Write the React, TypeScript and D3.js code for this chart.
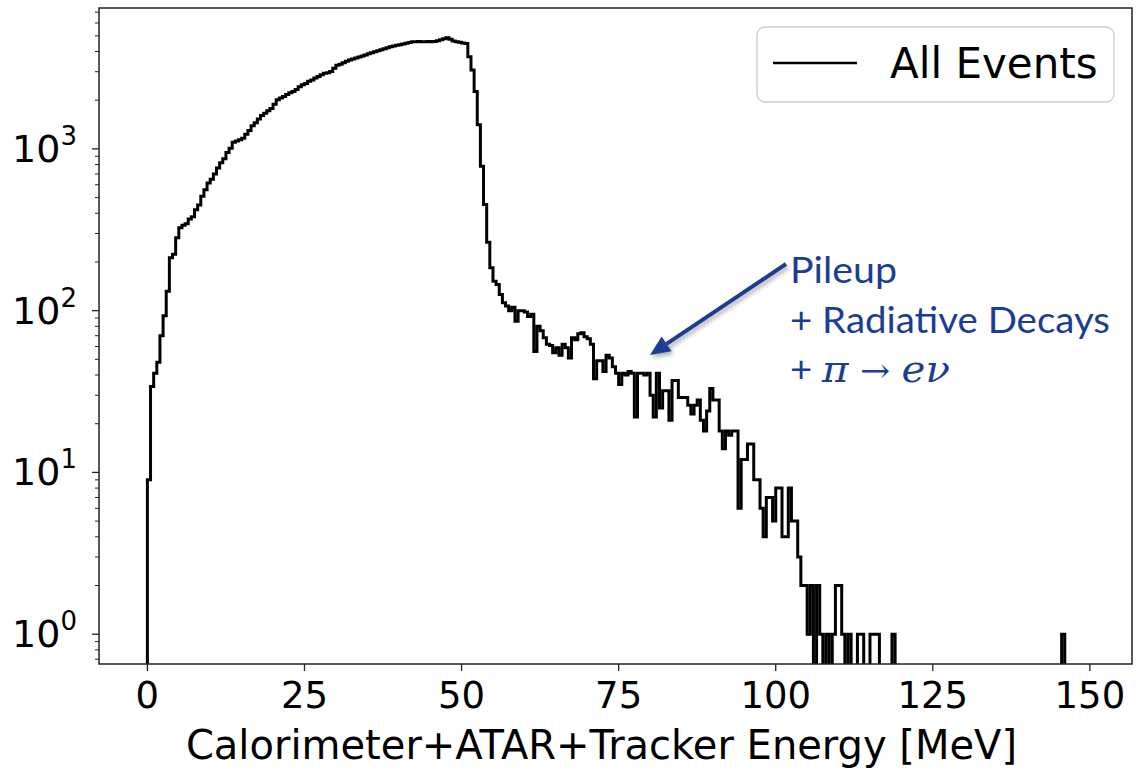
import React from "react";
import * as d3 from "d3";

// Histogram counts, 0.5 MeV bins starting at 0 MeV (300 bins, 0–150 MeV)
const counts: number[] = [
  9, 34, 41, 48, 70, 93, 132, 212, 223, 282, 325, 337,
  345, 368, 380, 420, 450, 510, 560, 615, 650, 700, 761, 820, 870, 950, 1010, 1100, 1120, 1140,
  1165, 1230, 1300, 1390, 1450, 1530, 1610, 1660, 1720, 1780, 1890, 2010, 2060, 2110, 2170, 2220, 2260, 2330, 2420, 2490,
  2540, 2620, 2670, 2740, 2800, 2870, 2930, 2960, 3010, 3150, 3290, 3340, 3410, 3480, 3550, 3600, 3650, 3700, 3750, 3810,
  3880, 3930, 3990, 4050, 4100, 4160, 4220, 4280, 4320, 4370, 4410, 4450, 4500, 4550, 4600, 4590, 4610, 4600, 4590, 4610,
  4600, 4620, 4660, 4720, 4790, 4860, 4760, 4650, 4600, 4560, 4520, 4490, 3715, 3073, 2261, 1408, 780, 453, 265, 184,
  152, 145, 126, 112, 107, 100, 105, 86, 100, 100, 98, 92, 95, 56, 80, 75, 68, 62, 61, 55,
  59, 53, 62, 59, 51, 68, 66, 72, 73, 69, 67, 62, 38, 49, 49, 42, 53, 51, 45, 41,
  35, 41, 40, 42, 41, 22, 41, 41, 40, 41, 30, 22, 41, 25, 32, 32, 21, 37, 37, 29,
  29, 29, 26, 23, 26, 28, 21, 18, 24, 33, 28, 28, 18, 14, 18, 17, 18, 18, 6, 12,
  12, 15, 15, 9, 9, 6, 4, 7, 7, 5, 8, 8, 4, 4, 8, 5, 5, 3, 2, 2,
  1, 2, 0, 2, 1, 0, 1, 0, 1, 2, 2, 1, 0, 1, 0, 0, 1, 1, 0, 0,
  1, 1, 1, 0, 0, 0, 0, 1, 0, 0, 0, 0, 0, 0, 0, 0, 0, 0, 0, 0,
  0, 0, 0, 0, 0, 0, 0, 0, 0, 0, 0, 0, 0, 0, 0, 0, 0, 0, 0, 0,
  0, 0, 0, 0, 0, 0, 0, 0, 0, 0, 0, 0, 0, 0, 0, 0, 0, 0, 0, 0,
  0, 1, 0, 0, 0, 0, 0, 0, 0, 0,
];
const BIN_START = 0;
const BIN_WIDTH = 0.5;

const xTickValues = [0, 25, 50, 75, 100, 125, 150];
const yMajorExponents = [0, 1, 2, 3];
const xLabelText = "Calorimeter+ATAR+Tracker Energy [MeV]";
const legendText = "All Events";
const annotationLines = ["Pileup", "+ Radiative Decays"];

const W = 1136;
const H = 771;
const PLOT = { left: 99, right: 1132, top: 8, bottom: 664 };
const BLUE = "#1b3d92";
const FONT = "'DejaVu Sans', sans-serif";
const ANNOT_FONT = "Lato, 'Open Sans', sans-serif";

export default function App() {
  const x = d3.scaleLinear().domain([-7.7, 156.7]).range([PLOT.left, PLOT.right]);
  const maxC = d3.max(counts) as number;
  const L = Math.log10(maxC);
  const y = d3
    .scaleLog()
    .domain([Math.pow(10, -0.05 * L), Math.pow(10, 1.05 * L)])
    .range([PLOT.bottom, PLOT.top]);
  const below = PLOT.bottom + 40;
  const yv = (v: number) => (v > 0 ? y(v) : below);

  const n = counts.length;
  const pts: [number, number][] = [];
  pts.push([x(BIN_START), below]);
  counts.forEach((c, i) => pts.push([x(BIN_START + i * BIN_WIDTH), yv(c)]));
  pts.push([x(BIN_START + n * BIN_WIDTH), yv(counts[n - 1])]);
  pts.push([x(BIN_START + n * BIN_WIDTH), below]);
  const stepPath = d3.line().curve(d3.curveStepAfter)(pts) || "";

  const [dLo, dHi] = y.domain();
  const minorTicks: number[] = [];
  for (let e = -1; e <= 4; e++) {
    for (let m = 2; m <= 9; m++) {
      const v = m * Math.pow(10, e);
      if (v >= dLo && v <= dHi) minorTicks.push(v);
    }
  }

  // arrow geometry
  const a0 = { x: 786, y: 264 };
  const a1 = { x: 650, y: 355 };
  const ang = Math.atan2(a1.y - a0.y, a1.x - a0.x);
  const headLen = 20;
  const headW = 9;
  const bx = a1.x - headLen * Math.cos(ang);
  const by = a1.y - headLen * Math.sin(ang);
  const px = -Math.sin(ang);
  const py = Math.cos(ang);
  const head = `M${a1.x},${a1.y} L${bx + px * headW},${by + py * headW} L${bx - px * headW},${by - py * headW} Z`;

  return (
    <div style={{ margin: 0, padding: 0 }}>
      <style>{`body{margin:0;padding:0;}`}</style>
      <svg width={W} height={H} style={{ display: "block", background: "#fff" }}>
        <defs>
          <clipPath id="plotClip">
            <rect x={PLOT.left} y={PLOT.top} width={PLOT.right - PLOT.left} height={PLOT.bottom - PLOT.top} />
          </clipPath>
          <filter id="shadow" x="-20%" y="-20%" width="140%" height="140%">
            <feDropShadow dx="2" dy="3" stdDeviation="2" floodColor="#000" floodOpacity="0.3" />
          </filter>
        </defs>
        <rect x={0} y={0} width={W} height={H} fill="#fff" />

        {/* histogram */}
        <path
          d={stepPath}
          fill="none"
          stroke="#000"
          strokeWidth={3}
          strokeLinejoin="miter"
          clipPath="url(#plotClip)"
        />

        {/* spines */}
        <rect
          x={PLOT.left}
          y={PLOT.top}
          width={PLOT.right - PLOT.left}
          height={PLOT.bottom - PLOT.top}
          fill="none"
          stroke="#222"
          strokeWidth={1.5}
        />

        {/* x ticks */}
        {xTickValues.map((t) => (
          <g key={"xt" + t}>
            <line x1={x(t)} x2={x(t)} y1={PLOT.bottom} y2={PLOT.bottom + 7} stroke="#222" strokeWidth={1.3} />
            <text
              x={x(t)}
              y={PLOT.bottom + 44}
              textAnchor="middle"
              fontFamily={FONT}
              fontSize={37}
              fill="#000"
            >
              {t}
            </text>
          </g>
        ))}

        {/* y major ticks */}
        {yMajorExponents.map((e) => {
          const yy = y(Math.pow(10, e));
          return (
            <g key={"ym" + e}>
              <line x1={PLOT.left - 7} x2={PLOT.left} y1={yy} y2={yy} stroke="#222" strokeWidth={1.3} />
              <text x={77} y={yy + 13} textAnchor="end" fontFamily={FONT} fontSize={38} fill="#000">
                10
                <tspan fontSize={26} dy={-17}>
                  {e}
                </tspan>
              </text>
            </g>
          );
        })}
        {/* y minor ticks */}
        {minorTicks.map((v, i) => (
          <line
            key={"yn" + i}
            x1={PLOT.left - 4}
            x2={PLOT.left}
            y1={y(v)}
            y2={y(v)}
            stroke="#222"
            strokeWidth={1}
          />
        ))}

        {/* x label */}
        <text
          x={(PLOT.left + PLOT.right) / 2 - 14}
          y={759}
          textAnchor="middle"
          fontFamily={FONT}
          fontSize={40}
          fill="#000"
        >
          {xLabelText}
        </text>

        {/* legend */}
        <rect x={757} y={27} width={357} height={75} rx={8} fill="#fff" fillOpacity={0.8} stroke="#cccccc" strokeWidth={1.3} />
        <line x1={773} x2={857} y1={63} y2={63} stroke="#000" strokeWidth={2.5} />
        <text x={890} y={78} fontFamily={FONT} fontSize={42} fill="#000">
          {legendText}
        </text>

        {/* annotation */}
        <g filter="url(#shadow)">
          <line x1={a0.x} y1={a0.y} x2={bx} y2={by} stroke={BLUE} strokeWidth={4} />
          <path d={head} fill={BLUE} />
        </g>
        <text x={790} y={283} fontFamily={ANNOT_FONT} fontSize={36} fill={BLUE} textLength={107} lengthAdjust="spacingAndGlyphs">
          {annotationLines[0]}
        </text>
        <text x={790} y={333} fontFamily={ANNOT_FONT} fontSize={36} fill={BLUE} textLength={320} lengthAdjust="spacingAndGlyphs">
          {annotationLines[1]}
        </text>
        <text x={790} y={382} fontFamily={ANNOT_FONT} fontSize={36} fill={BLUE} textLength={160} lengthAdjust="spacingAndGlyphs">
          {"+ "}
          <tspan fontFamily="'DejaVu Serif', 'Liberation Serif', serif" fontStyle="italic" fontSize={38}>
            {"π"}
          </tspan>
          <tspan fontFamily="'DejaVu Serif', 'Liberation Serif', serif" fontSize={34}>{" → "}</tspan>
          <tspan fontFamily="'DejaVu Serif', 'Liberation Serif', serif" fontStyle="italic" fontSize={38}>
            {"eν"}
          </tspan>
        </text>
      </svg>
    </div>
  );
}
